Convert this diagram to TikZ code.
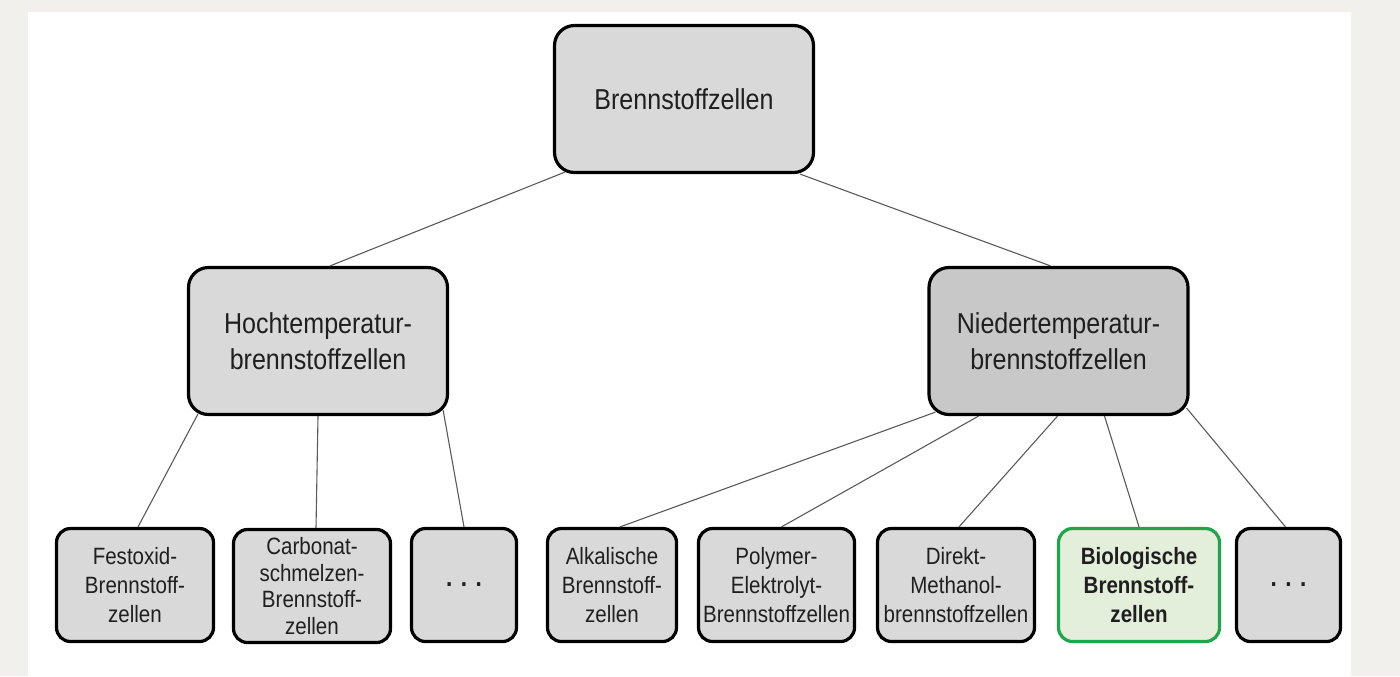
\documentclass[tikz,border=0pt]{standalone}
\usepackage{fontspec}
\setmainfont[FakeStretch=0.87]{Liberation Sans}
\usepackage{xcolor}
\usepackage{tikz}

\definecolor{pagegray}{HTML}{F1F0EC}
\definecolor{boxgray}{HTML}{D9D9D9}
\definecolor{darkgray}{HTML}{C8C8C8}
\definecolor{linkgray}{HTML}{5A5A5A}
\definecolor{biogreen}{HTML}{1FA64A}
\definecolor{biofill}{HTML}{E3EFDA}

\begin{document}
\begin{tikzpicture}[x=0.5pt,y=-0.5pt,
		box/.style={draw, line width=1.6pt, rounded corners=7pt, fill=boxgray, align=center, inner sep=0pt, text=black!88},
		bigbox/.style={box, rounded corners=10pt, minimum width=129.5pt, minimum height=73.5pt, font=\fontsize{14.4}{18}\selectfont},
		smallbox/.style={box, minimum height=56.5pt, font=\fontsize{11.8}{14.5}\selectfont},
		link/.style={draw=linkgray, line width=0.55pt}]
	% page
	\fill[pagegray] (0,0) rectangle (1400,676);
	\fill[white] (28,12) rectangle (1351,676);
	% top levels
	\node[bigbox] (root) at (684,99) {Brennstoffzellen};
	\node[bigbox] (hoch) at (318,341) {Hochtemperatur-\\brennstoffzellen};
	\node[bigbox, fill=darkgray] (nieder) at (1058.5,341) {Niedertemperatur-\\brennstoffzellen};
	% bottom row
	\node[smallbox, minimum width=78.5pt] (festoxid) at (135,585) {Festoxid-\\Brennstoff-\\zellen};
	\node[smallbox, minimum width=78.5pt, font=\fontsize{11.8}{13.4}\selectfont] (carbonat) at (312,586) {Carbonat-\\schmelzen-\\Brennstoff-\\zellen};
	\node[smallbox, minimum width=52.5pt, font=\fontsize{13}{14}\bfseries] (dotsH) at (464,585) {. . .};
	\node[smallbox, minimum width=64.5pt] (alkalisch) at (612,585) {Alkalische\\Brennstoff-\\zellen};
	\node[smallbox, minimum width=78pt] (polymer) at (776.5,585) {Polymer-\\Elektrolyt-\\Brennstoffzellen};
	\node[smallbox, minimum width=78.5pt] (direkt) at (956,585) {Direkt-\\Methanol-\\brennstoffzellen};
	\node[smallbox, minimum width=80.5pt, draw=biogreen, fill=biofill, font=\fontsize{11.8}{14.5}\bfseries] (bio) at (1139,585) {Biologische\\Brennstoff-\\zellen};
	\node[smallbox, minimum width=52pt, font=\fontsize{13}{14}\bfseries] (dotsN) at (1288.5,585) {. . .};
	% links
	\draw[link] ([xshift=6pt,yshift=1pt]root.south west) -- ([xshift=6pt]hoch.north);
	\draw[link] ([xshift=-7.5pt]root.south east) -- ([xshift=-4pt]nieder.north);
	\draw[link] ([xshift=5.5pt,yshift=1pt]hoch.south west) -- ([xshift=1.5pt]festoxid.north);
	\draw[link] (hoch.south) -- ([xshift=2pt]carbonat.north);
	\draw[link] ([xshift=-3pt,yshift=3pt]hoch.south east) -- (dotsH.north);
	\draw[link] ([xshift=4pt,yshift=2pt]nieder.south west) -- ([xshift=4pt]alkalisch.north);
	\draw[link] ([xshift=-40pt]nieder.south) -- ([xshift=2.5pt]polymer.north);
	\draw[link] ([xshift=-0.5pt]nieder.south) -- ([xshift=1.5pt]direkt.north);
	\draw[link] ([xshift=23pt]nieder.south) -- (bio.north);
	\draw[link] ([xshift=-1.5pt,yshift=4pt]nieder.south east) -- ([xshift=-1.5pt]dotsN.north);
\end{tikzpicture}
\end{document}
